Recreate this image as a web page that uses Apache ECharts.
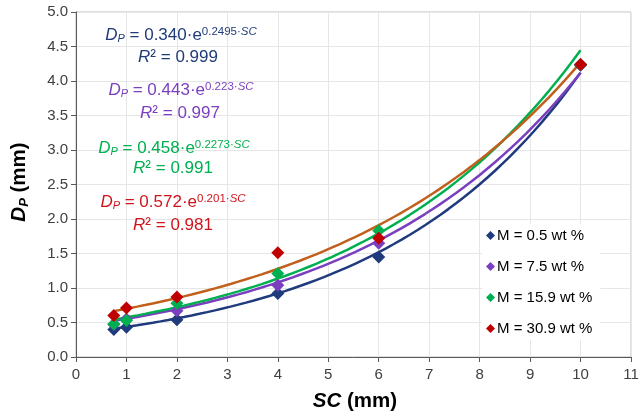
<!DOCTYPE html>
<html>
<head>
<meta charset="utf-8">
<script src="https://cdn.jsdelivr.net/npm/echarts@6/dist/echarts.min.js"></script>
<style>
  html, body { margin: 0; padding: 0; background: #fff; }
  #chart { width: 642px; height: 416px; }
</style>
</head>
<body>
<div id="chart"></div>
<script>
// measured points, SC (mm) vs D_P (mm)
const seriesNames = ['M = 0.5 wt %', 'M = 7.5 wt %', 'M = 15.9 wt %', 'M = 30.9 wt %'];
const scValues = [0.75, 1, 2, 4, 6, 10];
const dp05 = [0.40, 0.43, 0.54, 0.92, 1.45, 4.23];
const dp75 = [0.47, 0.55, 0.67, 1.04, 1.65, 4.24];
const dp159 = [0.48, 0.53, 0.78, 1.21, 1.83, 4.24];
const dp309 = [0.60, 0.71, 0.87, 1.51, 1.72, 4.24];

// fitted trend lines shown on the chart: D_P = a * e^(b*SC)
const fitA = [0.340, 0.443, 0.458, 0.572];
const fitB = [0.2495, 0.223, 0.2273, 0.201];
const fitR2 = ['0.999', '0.997', '0.991', '0.981'];
const fitRange = [0.75, 10];

const yTicks = [0, 0.5, 1, 1.5, 2, 2.5, 3, 3.5, 4, 4.5, 5];

const markColors = ['#1f3a7d', '#7a3fbf', '#00b050', '#c00000'];
const lineColors = ['#1f3a7d', '#7a3fbf', '#00b050', '#c0601c'];
const textColors = ['#203c78', '#7a3fbf', '#00b050', '#d0141c'];

const FONT = '"Liberation Sans", Arial, sans-serif';

const allData = [dp05, dp75, dp159, dp309];

const fitCurve = (a, b) => {
    const pts = [];
    const steps = 60;
    for (let i = 0; i <= steps; i++) {
        const x = fitRange[0] + (fitRange[1] - fitRange[0]) * i / steps;
        pts.push([x, a * Math.exp(b * x)]);
    }
    return pts;
};

const lineSeries = fitA.map((a, i) => ({
    type: 'line',
    data: fitCurve(a, fitB[i]),
    showSymbol: false,
    silent: true,
    lineStyle: { color: lineColors[i], width: 2.5 },
    z: 2
}));

const scatterSeries = allData.map((d, i) => ({
    name: seriesNames[i],
    type: 'scatter',
    symbol: 'diamond',
    symbolSize: 13,
    data: scValues.map((x, j) => [x, d[j]]),
    itemStyle: { color: markColors[i], opacity: 1 },
    z: 3
}));

const eqPos = [[181, 35, 178, 57], [181, 90, 180, 113], [174, 148, 173, 168], [173, 202, 173, 225]];

const eqRich = (c) => ({
    d: { fontFamily: FONT, fontSize: 17, fontStyle: 'italic', fill: c, lineHeight: 19 },
    sub: { fontFamily: FONT, fontSize: 11, fontStyle: 'italic', fill: c, verticalAlign: 'bottom', lineHeight: 19 },
    n: { fontFamily: FONT, fontSize: 17, fill: c, lineHeight: 19 },
    sup: { fontFamily: FONT, fontSize: 11.5, fill: c, verticalAlign: 'top', lineHeight: 19 },
    supi: { fontFamily: FONT, fontSize: 11.5, fontStyle: 'italic', fill: c, verticalAlign: 'top', lineHeight: 19 }
});

const graphics = [];
fitA.forEach((a, i) => {
    const c = textColors[i];
    const p = eqPos[i];
    graphics.push({
        type: 'text', x: p[0], y: p[1], z: 10,
        style: {
            text: '{d|D}{sub|P}{n| = ' + a.toFixed(3) + '·e}{sup|' + fitB[i] + '·}{supi|SC}',
            rich: eqRich(c), align: 'center', verticalAlign: 'middle'
        }
    });
    graphics.push({
        type: 'text', x: p[2], y: p[3], z: 10,
        style: {
            text: '{d|R}{n|² = ' + fitR2[i] + '}',
            rich: eqRich(c), align: 'center', verticalAlign: 'middle'
        }
    });
});

// axis titles
graphics.push({
    type: 'text', x: 355, y: 401, z: 10,
    style: {
        text: '{i|SC}{b| (mm)}',
        align: 'center', verticalAlign: 'middle',
        rich: {
            i: { fontFamily: FONT, fontSize: 20.5, fontWeight: 'bold', fontStyle: 'italic', fill: '#000' },
            b: { fontFamily: FONT, fontSize: 20.5, fontWeight: 'bold', fill: '#000' }
        }
    }
});
graphics.push({
    type: 'text', x: 19, y: 182, rotation: Math.PI / 2, z: 10,
    style: {
        text: '{i|D}{s|P}{b| (mm)}',
        align: 'center', verticalAlign: 'middle',
        rich: {
            i: { fontFamily: FONT, fontSize: 20.5, fontWeight: 'bold', fontStyle: 'italic', fill: '#000', lineHeight: 24 },
            s: { fontFamily: FONT, fontSize: 13, fontWeight: 'bold', fontStyle: 'italic', fill: '#000', verticalAlign: 'bottom', lineHeight: 24 },
            b: { fontFamily: FONT, fontSize: 20.5, fontWeight: 'bold', fill: '#000', lineHeight: 24 }
        }
    }
});

const chart = echarts.init(document.getElementById('chart'), null, { renderer: 'canvas' });
chart.setOption({
    animation: false,
    backgroundColor: '#fff',
    grid: {
        left: 76, right: 11, top: 12, bottom: 59,
        show: true, borderColor: '#bfbfbf', borderWidth: 1
    },
    xAxis: {
        type: 'value', min: 0, max: 11, interval: 1,
        axisLine: { show: true, onZero: false, lineStyle: { color: '#595959', width: 1 } },
        axisTick: { show: true, length: 5, lineStyle: { color: '#595959' } },
        axisLabel: { fontFamily: FONT, fontSize: 15, color: '#404040', margin: 10 },
        splitLine: { show: true, lineStyle: { color: '#e6e6e6', width: 1 } }
    },
    yAxis: {
        type: 'value', min: yTicks[0], max: yTicks[yTicks.length - 1], interval: 0.5,
        axisLine: { show: true, onZero: false, lineStyle: { color: '#595959', width: 1 } },
        axisTick: { show: true, length: 5, lineStyle: { color: '#595959' } },
        axisLabel: { fontFamily: FONT, fontSize: 15, color: '#404040', margin: 8, formatter: v => v.toFixed(1) },
        splitLine: { show: true, lineStyle: { color: '#e6e6e6', width: 1 } }
    },
    legend: {
        data: seriesNames,
        orient: 'vertical',
        left: 482, top: 224,
        icon: 'diamond',
        itemWidth: 9, itemHeight: 9,
        itemGap: 16,
        padding: [4, 8, 4, 4],
        backgroundColor: '#fff',
        textStyle: { fontFamily: FONT, fontSize: 15, color: '#000', padding: [0, 0, 0, -3] }
    },
    graphic: graphics,
    series: [...lineSeries, ...scatterSeries]
});
</script>
</body>
</html>
